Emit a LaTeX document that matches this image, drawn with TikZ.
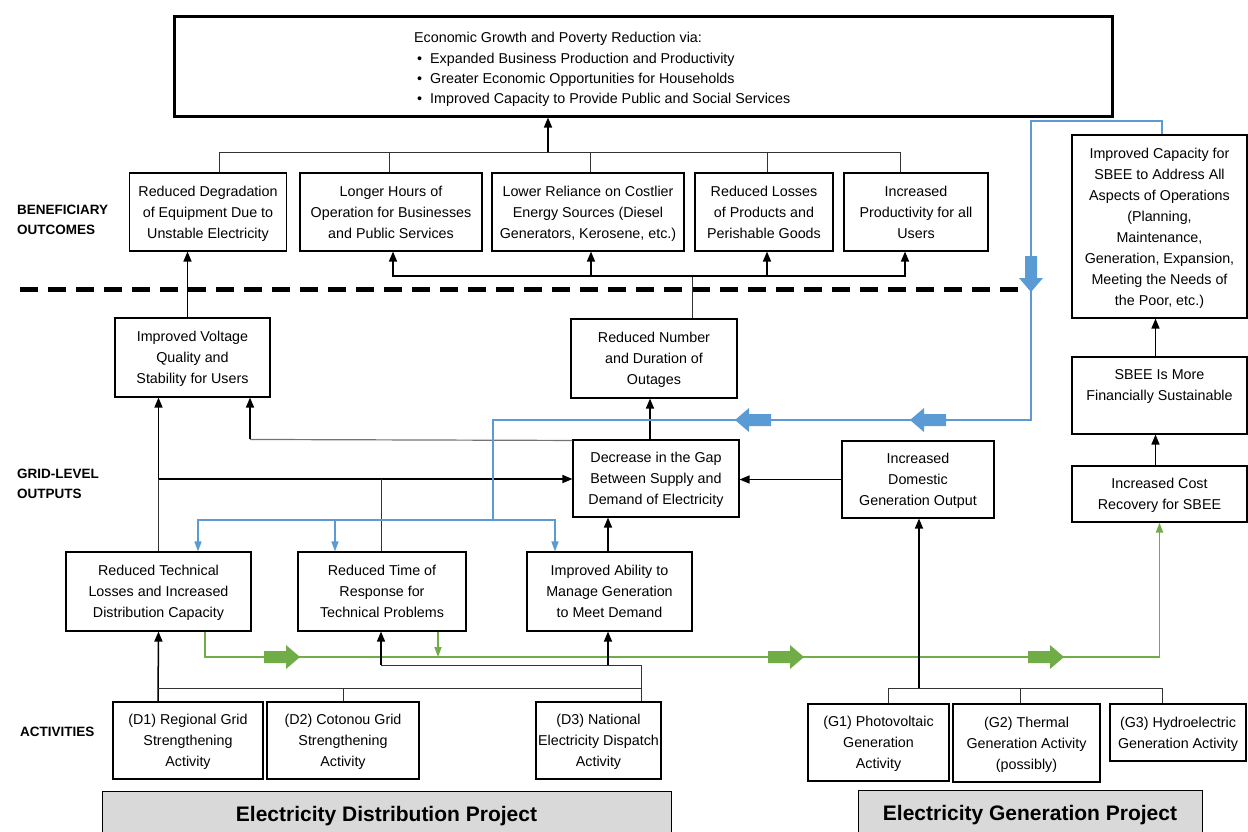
\documentclass[tikz,border=0pt]{standalone}
\usepackage{fontspec}
\setmainfont{Liberation Sans}
\usetikzlibrary{arrows.meta,calc}
\definecolor{bluec}{HTML}{5B9BD5}
\definecolor{greenc}{HTML}{70AD47}
\definecolor{barc}{HTML}{D9D9D9}
\tikzset{
 txt/.style={font=\fontsize{14.3}{21}\selectfont, align=center},
 box/.style={txt, draw, line width=1.1pt, inner sep=0pt, text depth=-3.5pt},
 lab/.style={font=\fontsize{13.5}{20}\selectfont\bfseries, align=left, anchor=west, inner sep=0pt},
 conn/.style={line width=1pt, draw=black!80},
 arr/.style={line width=1.5pt, -{Triangle[length=10pt,width=8pt]}},
 blline/.style={draw=bluec, line width=1.5pt},
 blarr/.style={blline, -{Triangle[length=10pt,width=7pt]}},
 grline/.style={draw=greenc, line width=1.8pt},
 grarr/.style={grline, -{Triangle[length=10pt,width=7pt]}},
 projbar/.style={draw, fill=barc, line width=1pt, inner sep=0pt, font=\fontsize{21}{25}\selectfont\bfseries},
 blockarr/.pic={\fill (-19,-6) -- (3,-6) -- (3,-12) -- (17,0) -- (3,12) -- (3,6) -- (-19,6) -- cycle;}
}
\begin{document}
\begin{tikzpicture}[x=1pt,y=-1pt]
\useasboundingbox (0,0) rectangle (1248,831);

% top goal
\node[draw, line width=3pt, minimum width=938, minimum height=100, inner sep=0pt] (top) at (643,66) {};
\node[txt, align=left, anchor=west, inner sep=0pt, font=\fontsize{14.3}{20.3}\selectfont] (toptext) at (414,69.5)
 {Economic Growth and Poverty Reduction via:\\
  \hspace*{3pt}\textbullet\hspace*{8pt}Expanded Business Production and Productivity\\
  \hspace*{3pt}\textbullet\hspace*{8pt}Greater Economic Opportunities for Households\\
  \hspace*{3pt}\textbullet\hspace*{8pt}Improved Capacity to Provide Public and Social Services};

% labels
\node[lab] (lbben) at (17,220) {BENEFICIARY\\OUTCOMES};
\node[lab] (lbgrid) at (17,484) {GRID-LEVEL\\OUTPUTS};
\node[lab] (lbact) at (20,732) {ACTIVITIES};

% beneficiary outcomes
\node[box, minimum width=157, minimum height=78] (B1) at (208,212) {Reduced Degradation\\of Equipment Due to\\Unstable Electricity};
\node[box, minimum width=182, minimum height=78] (B2) at (391,212) {Longer Hours of\\Operation for Businesses\\and Public Services};
\node[box, minimum width=192, minimum height=78] (B3) at (588,212) {Lower Reliance on Costlier\\Energy Sources (Diesel\\Generators, Kerosene, etc.)};
\node[box, minimum width=138, minimum height=78] (B4) at (764,212) {Reduced Losses\\of Products and\\Perishable Goods};
\node[box, minimum width=144, minimum height=78] (B5) at (916,212) {Increased\\Productivity for all\\Users};

% dashed divider
\draw[line width=5pt, dash pattern=on 18pt off 10pt] (20,289) -- (1020,289);

% grid-level outputs
\node[box, minimum width=155, minimum height=79] (IV) at (192.5,357.5) {Improved Voltage\\Quality and\\Stability for Users};
\node[box, minimum width=166, minimum height=79] (RN) at (654,358.5) {Reduced Number\\and Duration of\\Outages};
\node[box, minimum width=166, minimum height=77] (DG) at (656,478.5) {Decrease in the Gap\\Between Supply and\\Demand of Electricity};
\node[box, minimum width=152, minimum height=77] (DO) at (918,479.5) {Increased\\Domestic\\Generation Output};
\node[box, minimum width=175, minimum height=183] (SB) at (1159.5,226.5) {Improved Capacity for\\SBEE to Address All\\Aspects of Operations\\(Planning,\\Maintenance,\\Generation, Expansion,\\Meeting the Needs of\\the Poor, etc.)};
\node[box, minimum width=175, minimum height=77] (FS) at (1159.5,395.5) {SBEE Is More\\Financially Sustainable\\~};
\node[box, minimum width=175, minimum height=56] (CR) at (1159.5,494) {Increased Cost\\Recovery for SBEE};

\node[box, minimum width=185, minimum height=79] (RT) at (158.5,591.5) {Reduced Technical\\Losses and Increased\\Distribution Capacity};
\node[box, minimum width=168, minimum height=79] (RR) at (382,591.5) {Reduced Time of\\Response for\\Technical Problems};
\node[box, minimum width=165, minimum height=79] (IA) at (609.5,591.5) {Improved Ability to\\Manage Generation\\to Meet Demand};

% activities
\node[box, minimum width=150, minimum height=77] (D1) at (188,740.5) {(D1) Regional Grid\\Strengthening\\Activity};
\node[box, minimum width=152, minimum height=77] (D2) at (343,740.5) {(D2) Cotonou Grid\\Strengthening\\Activity};
\node[box, minimum width=125, minimum height=77] (D3) at (598.5,740.5) {(D3) National\\Electricity Dispatch\\Activity};
\node[box, minimum width=141, minimum height=77] (G1) at (878.5,742.5) {(G1) Photovoltaic\\Generation\\Activity};
\node[box, minimum width=147, minimum height=78] (G2) at (1026.5,743) {(G2) Thermal\\Generation Activity\\(possibly)};
\node[box, minimum width=136, minimum height=57] (G3) at (1178,732.5) {(G3) Hydroelectric\\Generation Activity};

% project bars
\node[projbar, minimum width=569, minimum height=50] (EDP) at (386.5,816) {Electricity Distribution Project};
\node[projbar, minimum width=344, minimum height=50] (EGP) at (1030,815) {Electricity Generation Project};

% --- connectors: top bus
\coordinate (topbus) at (548,152);
\draw[conn] ([xshift=11]B1.north) |- ([xshift=-16]B5.north |- topbus) -- ([xshift=-16]B5.north);
\draw[conn] ([xshift=-2]B2.north) -- ([xshift=-2]B2.north |- topbus);
\draw[conn] ([xshift=2]B3.north) -- ([xshift=2]B3.north |- topbus);
\draw[conn] ([xshift=3]B4.north) -- ([xshift=3]B4.north |- topbus);
\draw[arr] (topbus) -- (topbus |- top.south);

% outcome bus from RN
\coordinate (obus) at (692,276);
\draw[conn] ([xshift=38]RN.north) -- (obus);
\draw[arr] (obus) -| ([xshift=2]B2.south);
\draw[arr] (obus) -| ([xshift=-11]B5.south);
\draw[arr] ([xshift=3]B3.south |- obus) -- ([xshift=3]B3.south);
\draw[arr] ([xshift=3]B4.south |- obus) -- ([xshift=3]B4.south);

% IV -> B1
\draw[arr] ([xshift=-5]IV.north) -- ([xshift=-5]IV.north |- B1.south);

% DG -> RN, DO -> DG
\draw[arr] ([xshift=-6]DG.north) -- ([xshift=-6]DG.north |- RN.south);
\draw[arr] (DO.west) -- (DG.east |- DO.west);

% DG -> IV (grey line)
\draw[line width=1.2pt, draw=black!55] ([yshift=-1]DG.north west) -- ([xshift=57.5]IV.south |- DG.north west);
\draw[arr] ([xshift=57.5]IV.south |- DG.north west) -- ([xshift=57.5]IV.south);

% RT, RR -> IV and DG
\coordinate (midbus) at (381,479);
\draw[conn] (RT.north) -- (RT.north |- midbus);
\draw[arr] (RT.north |- midbus) -- (RT.north |- IV.south);
\draw[arr] (RT.north |- midbus) -- (DG.west |- midbus);
\draw[conn] ([xshift=-1]RR.north) -- (midbus);

% IA -> DG
\draw[arr] ([xshift=-1.5]IA.north) -- ([xshift=-1.5]IA.north |- DG.south);

% SBEE chain
\draw[arr] ([xshift=-4]CR.north) -- ([xshift=-4]CR.north |- FS.south);
\draw[arr] ([xshift=-4]FS.north) -- ([xshift=-4]FS.north |- SB.south);

% blue feedback
\coordinate (bl1) at (1031,121);
\coordinate (bl2) at (1031,420);
\coordinate (bl3) at (493,420);
\coordinate (bl4) at (493,520);
\draw[blline] ([xshift=2.5]SB.north) |- (bl1) -- (bl2) -- (bl3) -- (bl4);
\draw[blarr] (bl4) -| ([xshift=39.5]RT.north);
\draw[blarr] (bl4) -| ([xshift=-54.5]IA.north);
\draw[blarr] ([xshift=-47]RR.north |- bl4) -- ([xshift=-47]RR.north);
\pic[color=bluec, rotate=-90] at (1031,275) {blockarr};
\pic[color=bluec, rotate=180] at (927,420) {blockarr};
\pic[color=bluec, rotate=180] at (752,420) {blockarr};

% green chain
\coordinate (gline) at (700,657);
\draw[grarr] ([xshift=46.5]RT.south) |- (gline) -| (CR.south);
\draw[grarr] ([xshift=56]RR.south) -- ([xshift=56]RR.south |- gline);
\pic[color=greenc] at (283,657) {blockarr};
\pic[color=greenc] at (787,657) {blockarr};
\pic[color=greenc] at (1047,657) {blockarr};

% distribution activities
\coordinate (abus) at (641,688);
\coordinate (ab2) at (641,665);
\draw[arr] ([xshift=-30]D1.north) -- (RT.south);
\draw[conn] ([xshift=-30]D1.north |- abus) -- (abus);
\draw[conn] (D2.north) -- (D2.north |- abus);
\draw[conn] ([xshift=42.5]D3.north) -- (ab2) -- ([xshift=-1]RR.south |- ab2);
\draw[arr] ([xshift=-1]RR.south |- ab2) -- ([xshift=-1]RR.south);
\draw[arr] ([xshift=-1.5]IA.south |- ab2) -- ([xshift=-1.5]IA.south);

% generation activities
\coordinate (gbus) at (919,688);
\draw[conn] ([xshift=9.5]G1.north) |- ([xshift=-16]G3.north |- gbus) -- ([xshift=-16]G3.north);
\draw[conn] ([xshift=-6.5]G2.north) -- ([xshift=-6.5]G2.north |- gbus);
\draw[arr] (gbus) -- (gbus |- DO.south);
\end{tikzpicture}
\end{document}
